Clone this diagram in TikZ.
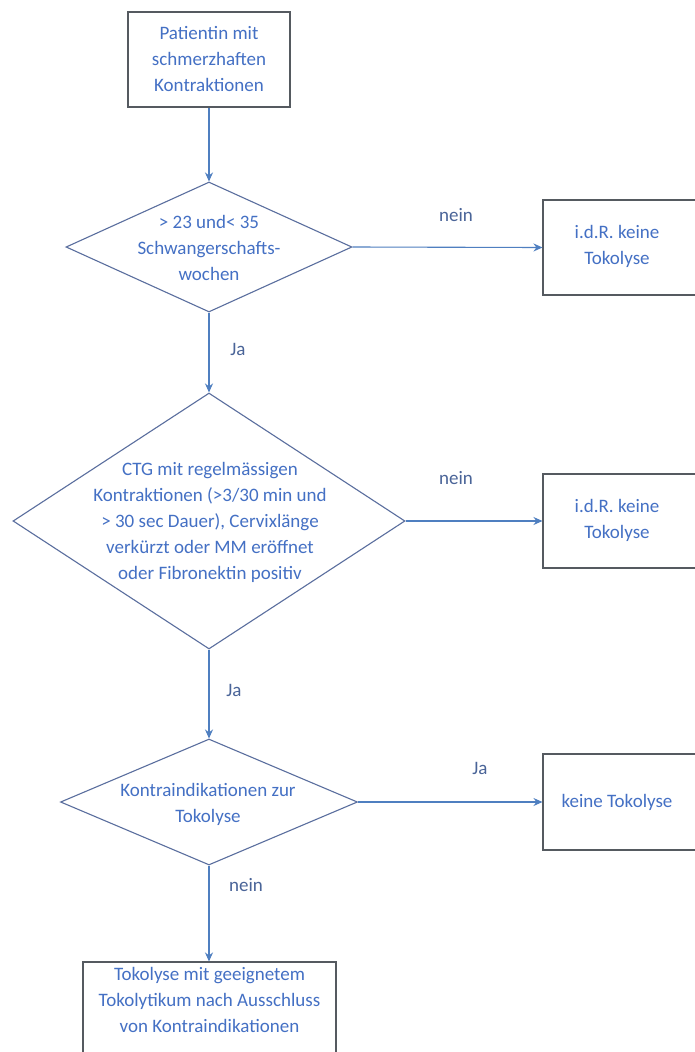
\documentclass[tikz,border=0pt]{standalone}
\usepackage{fontspec}
\setmainfont{Carlito}
\usetikzlibrary{shapes.geometric,arrows.meta}
\definecolor{txtblue}{HTML}{4470C4}
\definecolor{arrblue}{HTML}{4F7FC0}
\definecolor{dmdline}{HTML}{5A6E9E}
\definecolor{boxline}{HTML}{555A60}
\definecolor{lblcol}{HTML}{4A6498}
\tikzset{
  txt/.style={align=center,text=txtblue,font=\fontsize{19}{26}\selectfont,inner sep=0pt},
  rectbox/.style={draw=boxline,line width=1.1pt,inner sep=0pt},
  dmd/.style={diamond,draw=dmdline,line width=1.1pt,inner sep=0pt},
  arr/.style={draw=arrblue,line width=1.1pt,-{Stealth[length=9pt,width=8pt]}},
  lbl/.style={text=lblcol,font=\fontsize{19}{22}\selectfont,inner sep=0pt},
}
\begin{document}
\begin{tikzpicture}[x=1pt,y=-1pt]
\useasboundingbox[fill=white] (0,0) rectangle (694,1052);
% start box
\node[rectbox,minimum width=162pt,minimum height=95pt] (b1) at (209,59.5) {};
\node[txt] (t1) at (b1.center) {Patientin mit\\schmerzhaften\\Kontraktionen};
% diamond 1
\node[dmd,minimum width=286pt,minimum height=130pt] (d1) at (209,247) {};
\node[txt] (td1) at (209,248) {> 23 und< 35\\Schwangerschafts-\\wochen};
\node[rectbox,minimum width=160pt,minimum height=95pt] (r1) at (623,247.5) {};
\node[txt] (tr1) at (617,246) {i.d.R. keine\\Tokolyse};
% diamond 2
\node[dmd,minimum width=392pt,minimum height=256pt] (d2) at (209,521) {};
\node[txt] (td2) at (210,522) {CTG mit regelmässigen\\Kontraktionen (>3/30 min und\\> 30 sec Dauer), Cervixlänge\\verkürzt oder MM eröffnet\\oder Fibronektin positiv};
\node[rectbox,minimum width=160pt,minimum height=94pt] (r2) at (623,521) {};
\node[txt] (tr2) at (617,520) {i.d.R. keine\\Tokolyse};
% diamond 3
\node[dmd,minimum width=297pt,minimum height=126pt] (d3) at (209,802) {};
\node[txt] (td3) at (208,804) {Kontraindikationen zur\\Tokolyse};
\node[rectbox,minimum width=160pt,minimum height=96pt] (r3) at (623,802) {};
\node[txt] (tr3) at (617,802) {keine Tokolyse};
% final box
\node[rectbox,minimum width=253pt,minimum height=100pt] (b5) at (209.5,1012) {};
\node[txt] (t5) at (209.5,1000) {Tokolyse mit geeignetem\\Tokolytikum nach Ausschluss\\von Kontraindikationen};
% connectors
\draw[arr] (b1.south) -- (d1.north);
\draw[arr] (d1.east) -- (r1.west);
\draw[arr] (d1.south) -- (d2.north);
\draw[arr] (d2.east) -- (r2.west);
\draw[arr] (d2.south) -- (d3.north);
\draw[arr] (d3.east) -- (r3.west);
\draw[arr] (d3.south) -- (d3.south |- b5.north);
% labels
\node[lbl] (l1) at (456,215) {nein};
\node[lbl] (l2) at (238,349) {Ja};
\node[lbl] (l3) at (456,478) {nein};
\node[lbl] (l4) at (234,690) {Ja};
\node[lbl] (l5) at (480,768) {Ja};
\node[lbl] (l6) at (246,885) {nein};
\end{tikzpicture}
\end{document}
